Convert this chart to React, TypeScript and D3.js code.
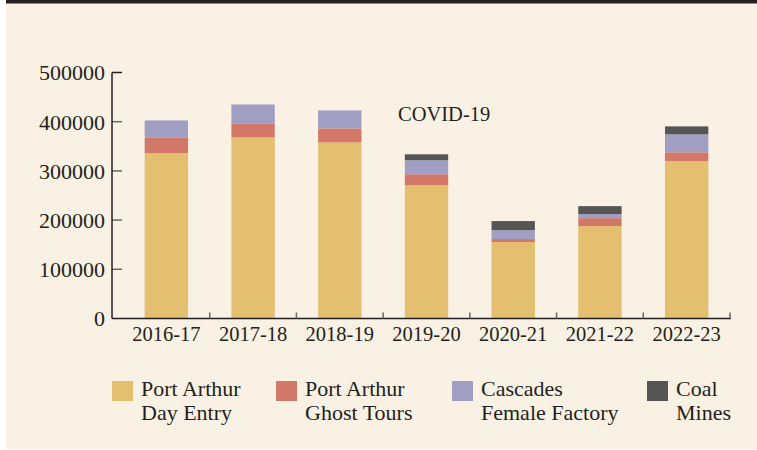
import React, { useEffect, useRef } from 'react';
import * as d3 from 'd3';

// visitor numbers per financial year
const years = ['2016-17', '2017-18', '2018-19', '2019-20', '2020-21', '2021-22', '2022-23'];
const dayEntry = [335800, 368200, 358000, 270900, 155400, 187800, 319600];
const ghostTours = [32400, 28400, 28400, 22300, 6100, 16200, 18200];
const femaleFactory = [34400, 38400, 36500, 28400, 18200, 8200, 36500];
const coalMines = [0, 0, 0, 12100, 18300, 16200, 16200];

const seriesKeys = ['dayEntry', 'ghostTours', 'femaleFactory', 'coalMines'];
const seriesLabels = [
  ['Port Arthur', 'Day Entry'],
  ['Port Arthur', 'Ghost Tours'],
  ['Cascades', 'Female Factory'],
  ['Coal', 'Mines'],
];
const yTicks = [0, 100000, 200000, 300000, 400000, 500000];

const colors = ['#e4bf6f', '#d27868', '#a09fc3', '#555556'];
const ink = '#231f20';
const font = '"Liberation Serif", "Times New Roman", serif';

function App() {
  const ref = useRef<SVGSVGElement>(null);

  useEffect(() => {
    const svg = d3.select(ref.current);
    svg.selectAll('*').remove();

    const width = 757;

    // panel background + dark top rule
    svg.append('rect').attr('x', 6).attr('y', 0).attr('width', width - 6).attr('height', 449).attr('fill', '#f9f1e3');
    svg.append('rect').attr('x', 6).attr('y', 0).attr('width', width - 6).attr('height', 3.5).attr('fill', ink);

    const table = years.map((year, i) => ({
      year,
      dayEntry: dayEntry[i],
      ghostTours: ghostTours[i],
      femaleFactory: femaleFactory[i],
      coalMines: coalMines[i],
    }));

    const x = d3.scaleBand().domain(years).range([123, 730]).paddingInner(0.5).paddingOuter(0.25);
    const y = d3.scaleLinear().domain([0, 500000]).range([318.5, 72.5]);
    const axisLeft = 112;

    const stacked = d3.stack<any>().keys(seriesKeys)(table);

    // bars
    svg.append('g')
      .selectAll('g')
      .data(stacked)
      .enter()
      .append('g')
      .attr('fill', (d, i) => colors[i])
      .selectAll('rect')
      .data(d => d)
      .enter()
      .append('rect')
      .attr('x', d => x(d.data.year) as number)
      .attr('y', d => y(d[1]))
      .attr('width', x.bandwidth())
      .attr('height', d => y(d[0]) - y(d[1]));

    // y axis
    const yAxis = svg.append('g');
    yAxis.selectAll('line.tick')
      .data(yTicks.filter(t => t > 0))
      .enter()
      .append('line')
      .attr('x1', axisLeft).attr('x2', axisLeft + 10)
      .attr('y1', d => y(d)).attr('y2', d => y(d))
      .attr('stroke', (d) => d === 500000 ? ink : '#6b6768')
      .attr('stroke-width', 1.5);
    yAxis.append('line')
      .attr('x1', axisLeft).attr('x2', axisLeft)
      .attr('y1', y(500000)).attr('y2', y(0))
      .attr('stroke', ink).attr('stroke-width', 1.5);
    yAxis.selectAll('text')
      .data(yTicks)
      .enter()
      .append('text')
      .attr('x', 105)
      .attr('y', d => y(d))
      .attr('dy', '0.36em')
      .attr('text-anchor', 'end')
      .attr('font-family', font)
      .attr('font-size', 22)
      .attr('fill', ink)
      .text(d => String(d));

    // x axis, ticks sit between the bars
    const xAxis = svg.append('g');
    xAxis.append('line')
      .attr('x1', axisLeft).attr('x2', x.range()[1] + 1)
      .attr('y1', y(0)).attr('y2', y(0))
      .attr('stroke', ink).attr('stroke-width', 1.5);
    xAxis.selectAll('line.tick')
      .data(years)
      .enter()
      .append('line')
      .attr('x1', d => (x(d) as number) + x.bandwidth() + x.step() * 0.25)
      .attr('x2', d => (x(d) as number) + x.bandwidth() + x.step() * 0.25)
      .attr('y1', y(0)).attr('y2', y(0) - 6)
      .attr('stroke', '#6b6768').attr('stroke-width', 1.5);
    xAxis.selectAll('text')
      .data(years)
      .enter()
      .append('text')
      .attr('x', d => (x(d) as number) + x.bandwidth() / 2)
      .attr('y', 341)
      .attr('text-anchor', 'middle')
      .attr('font-family', font)
      .attr('font-size', 20.5)
      .attr('fill', ink)
      .text(d => d);

    // annotation
    svg.append('text')
      .attr('x', 398).attr('y', 121)
      .attr('font-family', font)
      .attr('font-size', 20.5)
      .attr('fill', ink)
      .text('COVID-19');

    // legend
    const legendX = [112, 276, 452, 647];
    const legend = svg.append('g')
      .selectAll('g')
      .data(seriesLabels)
      .enter()
      .append('g')
      .attr('transform', (d, i) => 'translate(' + legendX[i] + ',0)');
    legend.append('rect')
      .attr('x', 0).attr('y', 381)
      .attr('width', 21).attr('height', 20)
      .attr('fill', (d, i) => colors[i]);
    legend.append('text')
      .attr('x', 29).attr('y', 395.5)
      .attr('font-family', font).attr('font-size', 22).attr('fill', ink)
      .text(d => d[0]);
    legend.append('text')
      .attr('x', 29).attr('y', 420)
      .attr('font-family', font).attr('font-size', 22).attr('fill', ink)
      .text(d => d[1]);
  }, []);

  return (
    <svg
      ref={ref}
      width={757}
      height={450}
      style={{ position: 'absolute', left: 0, top: 0, background: '#ffffff' }}
    />
  );
}

export default App;
